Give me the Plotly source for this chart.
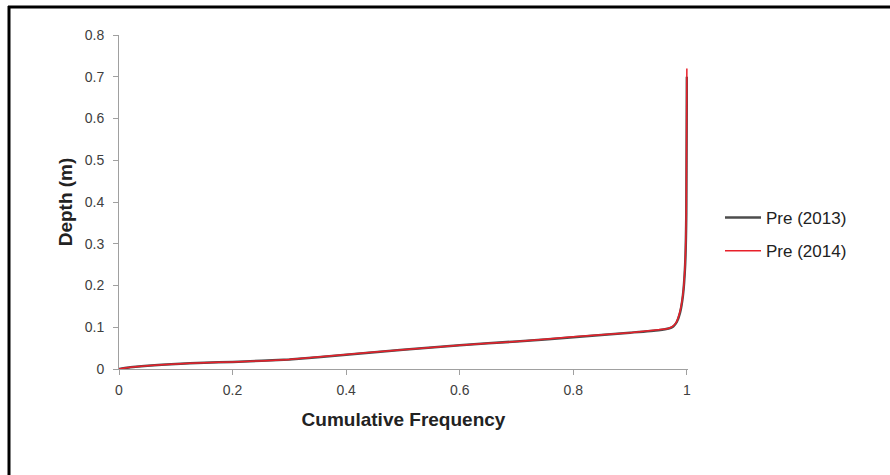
import plotly.graph_objects as go

# Cumulative frequency (x) vs depth in metres (y)
freq_2013 = [0, 0.02, 0.05, 0.10, 0.15, 0.20, 0.30, 0.40, 0.50, 0.60, 0.70, 0.80, 0.90, 0.95, 0.968, 0.976, 0.982, 0.988, 0.993, 0.997, 0.999, 1.0]
depth_2013 = [0, 0.004, 0.008, 0.012, 0.015, 0.017, 0.023, 0.034, 0.046, 0.057, 0.066, 0.076, 0.087, 0.093, 0.097, 0.102, 0.112, 0.135, 0.175, 0.250, 0.370, 0.700]

freq_2014 = [0, 0.02, 0.05, 0.10, 0.15, 0.20, 0.30, 0.40, 0.50, 0.60, 0.70, 0.80, 0.90, 0.95, 0.967, 0.975, 0.981, 0.987, 0.993, 0.997, 0.999, 1.0]
depth_2014 = [0, 0.004, 0.008, 0.012, 0.015, 0.017, 0.023, 0.035, 0.046, 0.057, 0.066, 0.077, 0.087, 0.094, 0.097, 0.102, 0.111, 0.133, 0.178, 0.255, 0.390, 0.720]

series_names = ["Pre (2013)", "Pre (2014)"]
x_ticks = [0, 0.2, 0.4, 0.6, 0.8, 1]
x_tick_labels = ["0", "0.2", "0.4", "0.6", "0.8", "1"]
y_ticks = [0, 0.1, 0.2, 0.3, 0.4, 0.5, 0.6, 0.7, 0.8]
y_tick_labels = ["0", "0.1", "0.2", "0.3", "0.4", "0.5", "0.6", "0.7", "0.8"]

W, H = 890, 475
L, R, T, B = 119, 202, 35, 106
pw, ph = W - L - R, H - T - B

def px(x):
    return (x - L) / pw

def py(y):
    return (H - B - y) / ph

fig = go.Figure()
fig.add_trace(go.Scatter(x=freq_2013, y=depth_2013, mode="lines", name=series_names[0],
                         line=dict(color="#4d4d4d", width=2.5, shape="spline", smoothing=0.5),
                         legendgroup="a"))
fig.add_trace(go.Scatter(x=freq_2014, y=depth_2014, mode="lines", name=series_names[1],
                         line=dict(color="#e8202a", width=1.5, shape="spline", smoothing=0.5),
                         legendgroup="b"))

axis_font = dict(family="Liberation Sans, Arial, sans-serif", size=14, color="#404040")
fig.update_xaxes(range=[0, 1.002], tickvals=x_ticks, ticktext=x_tick_labels,
                 showline=True, linecolor="#a0a0a0", linewidth=1, showgrid=False, zeroline=False,
                 ticks="outside", ticklen=5, tickcolor="#a0a0a0", tickfont=axis_font,
                 ticklabelstandoff=3,
                 title=dict(text="<b>Cumulative Frequency</b>", standoff=15,
                            font=dict(family="Liberation Sans, Arial, sans-serif", size=19, color="#222")))
fig.update_yaxes(range=[0, 0.8], tickvals=y_ticks, ticktext=y_tick_labels,
                 showline=True, linecolor="#a0a0a0", linewidth=1, showgrid=False, zeroline=False,
                 ticks="outside", ticklen=5, tickcolor="#a0a0a0", tickfont=axis_font,
                 ticklabelstandoff=6,
                 title=dict(text="<b>Depth (m)</b>", standoff=7,
                            font=dict(family="Liberation Sans, Arial, sans-serif", size=19, color="#222")))

fig.update_layout(
    width=W, height=H,
    margin=dict(l=L, r=R, t=T, b=B, pad=0),
    paper_bgcolor="white", plot_bgcolor="white",
    showlegend=True,
    legend=dict(x=px(720), y=py(200), xanchor="left", yanchor="top",
                font=dict(family="Liberation Sans, Arial, sans-serif", size=17, color="#222"),
                tracegroupgap=8, itemwidth=36, bgcolor="rgba(0,0,0,0)"),
    shapes=[
        dict(type="line", xref="paper", yref="paper", x0=px(8), x1=px(890), y0=py(7), y1=py(7),
             line=dict(color="black", width=3)),
        dict(type="line", xref="paper", yref="paper", x0=px(9), x1=px(9), y0=py(6), y1=py(476),
             line=dict(color="black", width=3)),
    ],
)

fig.write_html("out.html")
